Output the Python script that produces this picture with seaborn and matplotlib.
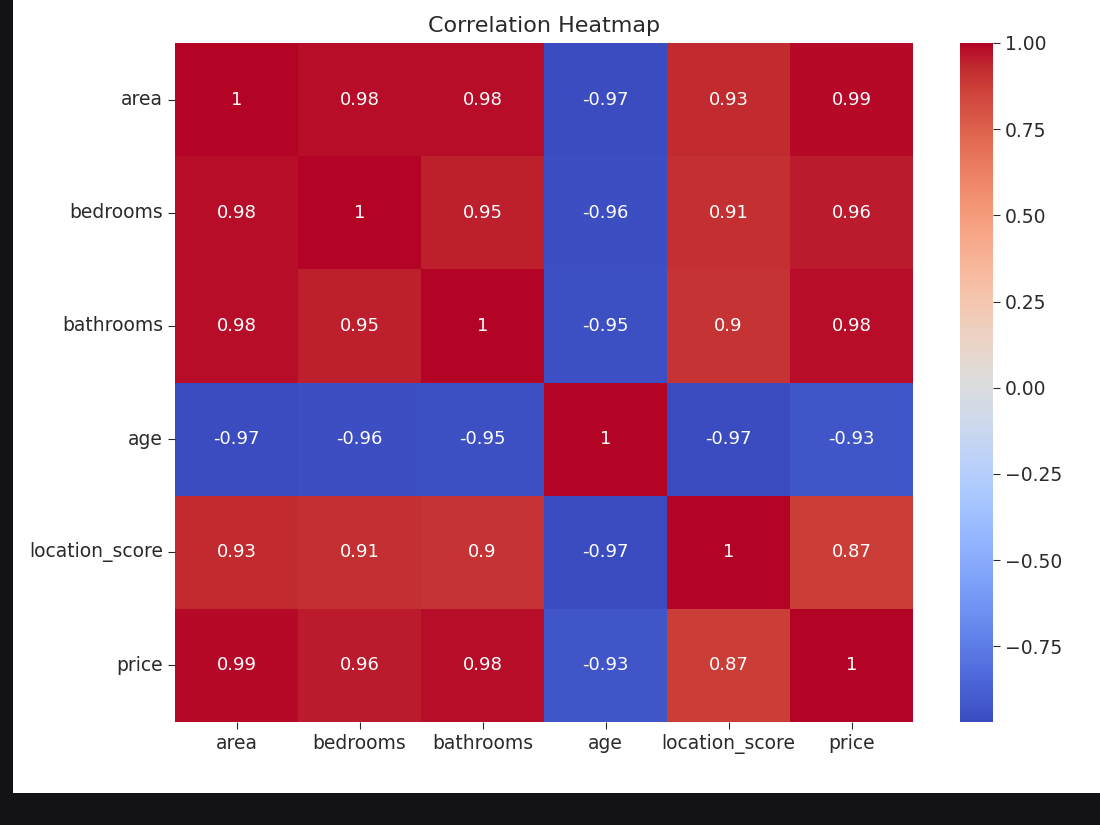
import numpy as np
import pandas as pd
import matplotlib
matplotlib.use('Agg')
import matplotlib.pyplot as plt
from matplotlib.patches import Rectangle
import seaborn as sns

features = ['area', 'bedrooms', 'bathrooms', 'age', 'location_score', 'price']
area = [1.00, 0.98, 0.98, -0.97, 0.93, 0.99]
bedrooms = [0.98, 1.00, 0.95, -0.96, 0.91, 0.96]
bathrooms = [0.98, 0.95, 1.00, -0.95, 0.90, 0.98]
age = [-0.97, -0.96, -0.95, 1.00, -0.97, -0.93]
location_score = [0.93, 0.91, 0.90, -0.97, 1.00, 0.87]
price = [0.99, 0.96, 0.98, -0.93, 0.87, 1.00]

corr = pd.DataFrame([area, bedrooms, bathrooms, age, location_score, price],
                    index=features, columns=features)

W, H = 1100, 825
fig = plt.figure(figsize=(11, 8.25), dpi=100, facecolor='#131317')
# white canvas of the screenshot, behind everything
fig.patches.append(Rectangle((13 / W, 32 / H), 1 - 13 / W, 1 - 32 / H,
                             transform=fig.transFigure, facecolor='white',
                             edgecolor='none', zorder=-10))

ax = fig.add_axes([175 / W, 1 - 722 / H, (913 - 175) / W, (722 - 43) / H])
cax = fig.add_axes([960 / W, 1 - 722 / H, (993 - 960) / W, (722 - 43) / H])

sns.heatmap(corr, annot=True, cmap='coolwarm', ax=ax, cbar_ax=cax,
            annot_kws={'fontsize': 13})
ax.set_title('Correlation Heatmap', fontsize=16, color='#2a2a2a', pad=8)
ax.tick_params(axis='both', labelsize=13.5, colors='#2a2a2a', length=5)
ax.tick_params(axis='y', rotation=0)
ax.tick_params(axis='x', rotation=0)
cax.tick_params(labelsize=13.5, colors='#2a2a2a', length=5)

fig.savefig('out.png', dpi=100, facecolor=fig.get_facecolor())
